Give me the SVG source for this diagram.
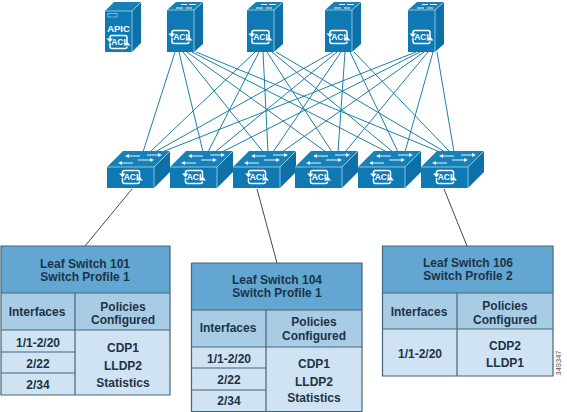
<svg xmlns="http://www.w3.org/2000/svg" width="567" height="412" viewBox="0 0 567 412">
<style>
text{font-family:"Liberation Sans",Arial,sans-serif;font-weight:bold;text-anchor:middle}
.t{font-size:12px;fill:#1d3346}
.aci{font-size:8.500px;fill:#fff}
.f{fill:#0f79b4}
.s{fill:#0e70a8}
.p{fill:#1680b8}
.e{fill:none;stroke:#a5d6ee;stroke-width:.8}
.h{fill:#62a6d1}.m{fill:#a9cce5}.r{fill:#d0e3f2}
.b{fill:none;stroke:#47657a;stroke-width:1.200}
.wa{fill:none;stroke:#e8f4fb;stroke-width:1.100}
.ah{fill:#e8f4fb}
#links line{stroke:#1c80a8;stroke-width:1}
#leaders line{stroke:#333;stroke-width:.9}
</style>
<defs>
<g id="sym">
<path d="M-8.500,-2V-4.500Q-8.500,-6.500 -6.500,-6.500H6.500Q8.500,-6.500 8.500,-4.500V1.500M8.500,4.500Q8.500,6.500 6.500,6.500H-6.500Q-8.500,6.500 -8.500,4.500V1" fill="none" stroke="#fff" stroke-width="1.500"/>
<path d="M-12,-3.500H-5.500L-8.500,0.500ZM12,3.500H5L8.500,-0.500Z" fill="#fff"/>
</g>
<g id="spine">
<path class="f" d="M0,10H27V52H0Z"/>
<path class="s" d="M27,10L36,2V44L27,52Z"/>
<path class="p" d="M0,10L9,2H36L27,10Z"/>
<path class="e" d="M0,10H27L36,2M27,10V52"/>
<path class="wa" d="M9,8H16M19,8H25M14,4.500H20M22,4.500H29"/>
</g>
<g id="leaf">
<path class="f" d="M0,16H47V37H0Z"/>
<path class="s" d="M47,16L63,0V21L47,37Z"/>
<path class="p" d="M0,16L16,0H63L47,16Z"/>
<path class="e" d="M0,16H47L63,0M47,16V37"/>
<path class="wa" d="M21,5H33M40,4H52M14,12H26M31,9H44"/>
<path class="ah" d="M18,5L22,3V7ZM55,4L51,2V6ZM11,12L15,10V14ZM47,9L43,7V11Z"/>
</g>
</defs>
<g id="links">
<line x1="175" y1="52" x2="143" y2="152"/><line x1="179" y1="52" x2="203" y2="152"/><line x1="183" y1="52" x2="263" y2="152"/><line x1="187" y1="52" x2="326" y2="152"/><line x1="192" y1="52" x2="387" y2="152"/><line x1="196" y1="52" x2="440" y2="152"/>
<line x1="255" y1="52" x2="150" y2="152"/><line x1="259" y1="52" x2="208" y2="152"/><line x1="263" y1="52" x2="268" y2="152"/><line x1="267" y1="52" x2="332" y2="152"/><line x1="272" y1="52" x2="393" y2="152"/><line x1="276" y1="52" x2="445" y2="152"/>
<line x1="333" y1="52" x2="155" y2="152"/><line x1="337" y1="52" x2="215" y2="152"/><line x1="341" y1="52" x2="273" y2="152"/><line x1="345" y1="52" x2="338" y2="152"/><line x1="350" y1="52" x2="398" y2="152"/><line x1="354" y1="52" x2="450" y2="152"/>
<line x1="416" y1="52" x2="162" y2="152"/><line x1="420" y1="52" x2="222" y2="152"/><line x1="424" y1="52" x2="282" y2="152"/><line x1="428" y1="52" x2="345" y2="152"/><line x1="433" y1="52" x2="405" y2="152"/><line x1="437" y1="52" x2="454" y2="152"/>
</g>
<g id="leaders">
<line x1="132" y1="189" x2="85" y2="246"/><line x1="257" y1="189" x2="277" y2="263"/><line x1="444" y1="189" x2="467" y2="246"/>
</g>
<g id="apic">
<path class="f" d="M105,11H132V52H105Z"/><path class="s" d="M132,11L141,2V43L132,52Z"/><path class="p" d="M105,11L114,2H141L132,11Z"/>
<path class="e" d="M105,11H132L141,2M132,11V52"/>
<rect x="108" y="13.500" width="9" height="3.500" fill="none" stroke="#8cc8e6" stroke-width=".8"/>
<text x="118.500" y="32" style="font-size:9.500px;fill:#fff">APIC</text>
<use href="#sym" transform="translate(118.500,42)"/><text class="aci" x="118.500" y="45">ACI</text>
</g>
<g id="spine1" transform="translate(167,0)"><use href="#spine"/><use href="#sym" transform="translate(13.500,37)"/><text class="aci" x="13.500" y="40">ACI</text></g>
<g id="spine2" transform="translate(247,0)"><use href="#spine"/><use href="#sym" transform="translate(13.500,37)"/><text class="aci" x="13.500" y="40">ACI</text></g>
<g id="spine3" transform="translate(325,0)"><use href="#spine"/><use href="#sym" transform="translate(13.500,37)"/><text class="aci" x="13.500" y="40">ACI</text></g>
<g id="spine4" transform="translate(408,0)"><use href="#spine"/><use href="#sym" transform="translate(13.500,37)"/><text class="aci" x="13.500" y="40">ACI</text></g>
<g id="leaf1" transform="translate(107,151)"><use href="#leaf"/><use href="#sym" transform="translate(24,26)"/><text class="aci" x="24" y="29">ACI</text></g>
<g id="leaf2" transform="translate(170,151)"><use href="#leaf"/><use href="#sym" transform="translate(24,26)"/><text class="aci" x="24" y="29">ACI</text></g>
<g id="leaf3" transform="translate(233,151)"><use href="#leaf"/><use href="#sym" transform="translate(24,26)"/><text class="aci" x="24" y="29">ACI</text></g>
<g id="leaf4" transform="translate(295,151)"><use href="#leaf"/><use href="#sym" transform="translate(24,26)"/><text class="aci" x="24" y="29">ACI</text></g>
<g id="leaf5" transform="translate(358,151)"><use href="#leaf"/><use href="#sym" transform="translate(24,26)"/><text class="aci" x="24" y="29">ACI</text></g>
<g id="leaf6" transform="translate(421,151)"><use href="#leaf"/><use href="#sym" transform="translate(24,26)"/><text class="aci" x="24" y="29">ACI</text></g>
<g id="table101">
<rect class="h" x="1" y="246" width="169" height="47"/><rect class="m" x="1" y="293" width="169" height="37"/><rect class="r" x="1" y="330" width="169" height="65"/>
<path class="b" d="M1,246H170V395H1ZM1,293H170M1,330H170M75,293V395M1,352H75M1,373H75"/>
<text class="t" x="85" y="268">Leaf Switch 101</text><text class="t" x="85" y="281">Switch Profile 1</text>
<text class="t" x="37" y="316">Interfaces</text><text class="t" x="123" y="311">Policies</text><text class="t" x="123" y="324">Configured</text>
<text class="t" x="38" y="347">1/1-2/20</text><text class="t" x="38" y="368">2/22</text><text class="t" x="38" y="389">2/34</text>
<text class="t" x="123" y="352">CDP1</text><text class="t" x="123" y="370">LLDP2</text><text class="t" x="123" y="387">Statistics</text>
</g>
<g id="table104">
<rect class="h" x="191.500" y="263" width="170.500" height="47"/><rect class="m" x="191.500" y="310" width="170.500" height="37"/><rect class="r" x="191.500" y="347" width="170.500" height="65"/>
<path class="b" d="M191.500,263H362V412M191.500,412V263M191.500,310H362M191.500,347H362M266,310V412M191.500,368H266M191.500,390H266M191.500,411.500H362"/>
<text class="t" x="277" y="284">Leaf Switch 104</text><text class="t" x="277" y="297">Switch Profile 1</text>
<text class="t" x="228" y="332">Interfaces</text><text class="t" x="314" y="326">Policies</text><text class="t" x="314" y="340">Configured</text>
<text class="t" x="229" y="363">1/1-2/20</text><text class="t" x="229" y="384">2/22</text><text class="t" x="229" y="405">2/34</text>
<text class="t" x="314" y="368">CDP1</text><text class="t" x="314" y="386">LLDP2</text><text class="t" x="314" y="402">Statistics</text>
</g>
<g id="table106">
<rect class="h" x="382.500" y="246" width="170.500" height="47"/><rect class="m" x="382.500" y="293" width="170.500" height="36"/><rect class="r" x="382.500" y="329" width="170.500" height="47"/>
<path class="b" d="M382.500,246H553V376H382.500ZM382.500,293H553M382.500,329H553M457,293V376"/>
<text class="t" x="468" y="267">Leaf Switch 106</text><text class="t" x="468" y="280">Switch Profile 2</text>
<text class="t" x="419" y="316">Interfaces</text><text class="t" x="505" y="310">Policies</text><text class="t" x="505" y="324">Configured</text>
<text class="t" x="420" y="358">1/1-2/20</text><text class="t" x="505" y="350">CDP2</text><text class="t" x="505" y="367">LLDP1</text>
</g>
<text x="0" y="0" transform="translate(561,363) rotate(-90)" style="font-size:7.500px;font-weight:normal;fill:#555">349347</text>
</svg>
